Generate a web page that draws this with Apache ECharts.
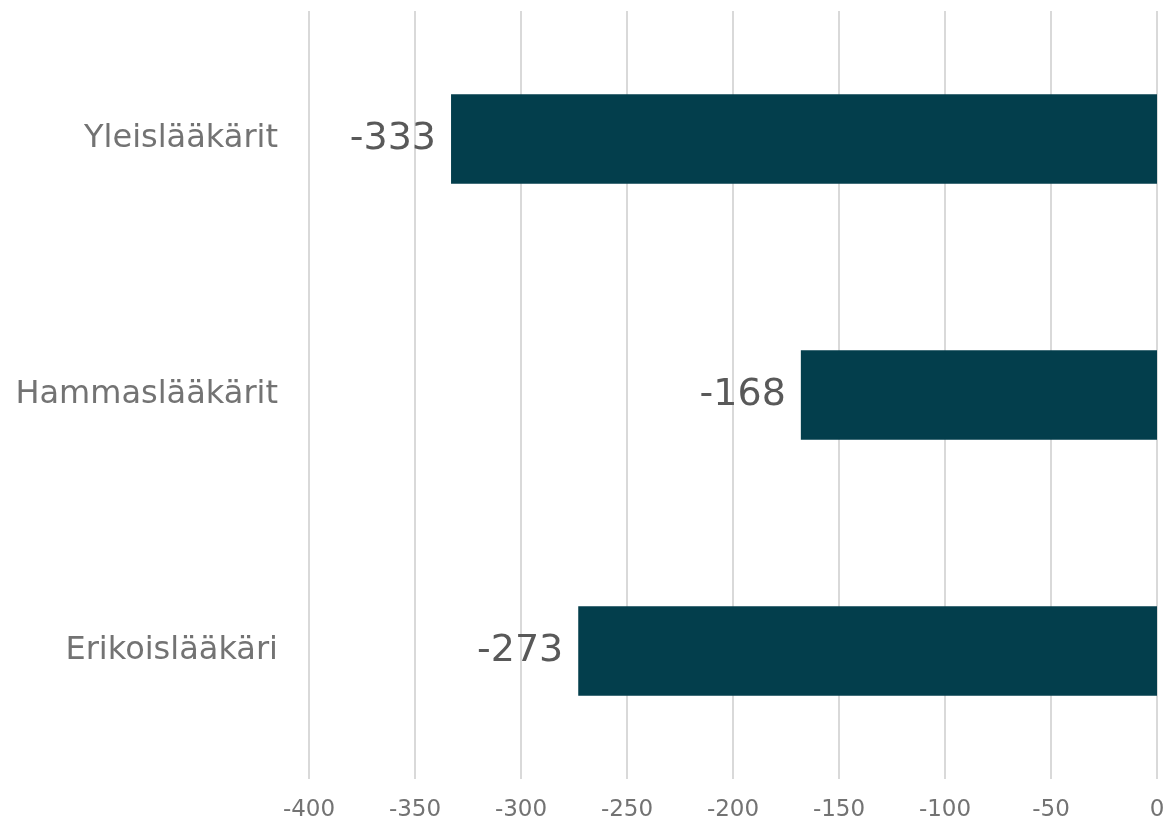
<!DOCTYPE html>
<html>
<head>
<meta charset="utf-8">
<script src="https://cdn.jsdelivr.net/npm/echarts@6/dist/echarts.min.js"></script>
<style>
  html, body { margin: 0; padding: 0; background: #fff; }
  #chart { width: 1163px; height: 822px; }
</style>
</head>
<body>
<div id="chart"></div>
<script>
// data (top to bottom in the picture)
var categories = ['Yleislääkärit', 'Hammaslääkärit', 'Erikoislääkäri'];
var values = [-333, -168, -273];
var xTicks = [-400, -350, -300, -250, -200, -150, -100, -50, 0];

var myChart = echarts.init(document.getElementById('chart'));
var font = 'DejaVu Sans, Verdana, sans-serif';

var option = {
    animation: false,
    grid: {
        left: 309,
        right: 6,
        top: 11,
        bottom: 43,
        outerBoundsMode: 'none'
    },
    xAxis: {
        type: 'value',
        min: xTicks[0],
        max: xTicks[xTicks.length - 1],
        interval: 50,
        axisLine: { show: false },
        axisTick: { show: false },
        splitLine: { lineStyle: { color: '#d9d9d9', width: 2 } },
        axisLabel: {
            color: '#737373',
            fontSize: 23,
            fontFamily: font,
            margin: 20
        }
    },
    yAxis: {
        type: 'category',
        inverse: true,
        data: categories,
        axisLine: { show: false },
        axisTick: { show: false },
        axisLabel: {
            color: '#737373',
            fontSize: 32,
            fontFamily: font,
            margin: 31
        }
    },
    series: [
        {
            type: 'bar',
            data: values,
            barWidth: '35%',
            itemStyle: { color: '#033e4c' },
            label: {
                show: true,
                position: 'left',
                distance: 15,
                color: '#595959',
                fontSize: 38,
                fontFamily: font
            }
        }
    ]
};
myChart.setOption(option);
</script>
</body>
</html>
